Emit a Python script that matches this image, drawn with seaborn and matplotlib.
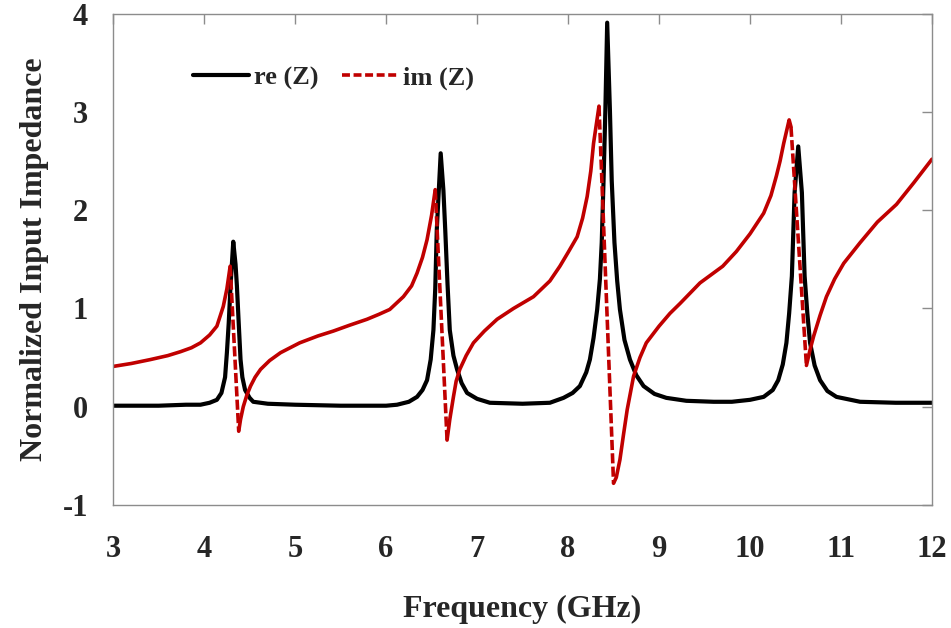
import numpy as np
import pandas as pd
import matplotlib
matplotlib.use("Agg")
import matplotlib.pyplot as plt
import seaborn as sns
from matplotlib.lines import Line2D

# --- data (frequency in GHz, normalized impedance) ---
re_freq = [3.00, 3.50, 3.80, 3.96, 4.06, 4.14, 4.19, 4.23, 4.25, 4.27, 4.29, 4.32, 4.345,
           4.36, 4.38, 4.40, 4.42, 4.45, 4.50, 4.54, 4.70, 5.00, 5.50, 6.00, 6.12, 6.25,
           6.34, 6.40, 6.45, 6.49, 6.52, 6.54, 6.557, 6.60, 6.63, 6.65, 6.675, 6.70, 6.74,
           6.78, 6.83, 6.89, 7.00, 7.14, 7.50, 7.80, 7.95, 8.05, 8.13, 8.20, 8.24, 8.28,
           8.32, 8.35, 8.37, 8.39, 8.41, 8.43, 8.46, 8.48, 8.51, 8.54, 8.57, 8.62, 8.68,
           8.75, 8.83, 8.95, 9.08, 9.30, 9.60, 9.80, 10.00, 10.15, 10.25, 10.31, 10.36,
           10.40, 10.43, 10.46, 10.49, 10.53, 10.57, 10.60, 10.63, 10.66, 10.71, 10.77,
           10.85, 10.95, 11.21, 11.60, 12.00]
re_val = [0.01, 0.01, 0.02, 0.02, 0.04, 0.07, 0.14, 0.30, 0.55, 0.85, 1.23, 1.68, 1.45,
          1.23, 0.85, 0.48, 0.30, 0.17, 0.09, 0.05, 0.03, 0.02, 0.01, 0.01, 0.02, 0.05,
          0.10, 0.17, 0.27, 0.48, 0.78, 1.20, 1.80, 2.58, 2.20, 1.80, 1.25, 0.78, 0.52,
          0.38, 0.24, 0.14, 0.08, 0.04, 0.03, 0.04, 0.09, 0.14, 0.21, 0.35, 0.48, 0.70,
          0.99, 1.30, 1.67, 2.30, 3.02, 3.91, 3.02, 2.30, 1.67, 1.28, 0.99, 0.68, 0.48,
          0.32, 0.21, 0.13, 0.09, 0.06, 0.05, 0.05, 0.07, 0.10, 0.17, 0.27, 0.43,
          0.65, 0.95, 1.33, 2.18, 2.65, 2.18, 1.33, 0.95, 0.65, 0.42, 0.27,
          0.16, 0.10, 0.05, 0.04, 0.04]

im_freq = [3.00, 3.20, 3.41, 3.60, 3.74, 3.86, 3.96, 4.06, 4.14, 4.21, 4.25, 4.286,
           4.38, 4.40, 4.43, 4.47, 4.51, 4.56, 4.62, 4.72, 4.84, 5.05, 5.25, 5.42, 5.60,
           5.79, 5.92, 6.04, 6.19, 6.28, 6.34, 6.40, 6.45, 6.50, 6.54,
           6.67, 6.70, 6.74, 6.77, 6.81, 6.88, 6.96, 7.08, 7.22, 7.40, 7.62, 7.80, 7.91,
           8.00, 8.10, 8.16, 8.21, 8.25, 8.28, 8.34,
           8.50, 8.53, 8.57, 8.61, 8.65, 8.72, 8.79, 8.86, 9.00, 9.12, 9.23, 9.45, 9.70,
           9.85, 10.00, 10.15, 10.23, 10.29, 10.33, 10.37, 10.43, 10.45,
           10.62, 10.66, 10.70, 10.77, 10.84, 10.93, 11.03, 11.21, 11.40, 11.61, 11.80,
           12.00]
im_val = [0.41, 0.44, 0.48, 0.52, 0.56, 0.60, 0.65, 0.73, 0.82, 1.02, 1.20, 1.43,
          -0.25, -0.13, 0.00, 0.12, 0.21, 0.30, 0.38, 0.47, 0.55, 0.65, 0.72, 0.77, 0.83,
          0.89, 0.94, 0.99, 1.12, 1.23, 1.36, 1.52, 1.70, 1.95, 2.21,
          -0.34, -0.13, 0.10, 0.26, 0.38, 0.52, 0.65, 0.77, 0.89, 1.00, 1.12, 1.28, 1.43,
          1.57, 1.73, 1.92, 2.14, 2.40, 2.68, 3.06,
          -0.78, -0.72, -0.54, -0.28, -0.03, 0.31, 0.50, 0.65, 0.82, 0.95, 1.05, 1.26, 1.43,
          1.58, 1.76, 1.97, 2.15, 2.35, 2.50, 2.68, 2.92, 2.85,
          0.42, 0.58, 0.72, 0.93, 1.12, 1.30, 1.46, 1.67, 1.88, 2.06, 2.28,
          2.52]

# steep drops of im(Z) that appear dashed in the reference
dashed_spans = [(4.286, 4.38), (6.54, 6.67), (8.34, 8.50), (10.45, 10.62)]

RED = "#C00000"
GRAY = "#8c8c8c"

sns.set_theme(style="white")
plt.rcParams["font.family"] = ["Liberation Serif", "DejaVu Serif"]
plt.rcParams["font.weight"] = "bold"
plt.rcParams["axes.labelweight"] = "bold"
plt.rcParams["axes.unicode_minus"] = False

fig = plt.figure(figsize=(9.51, 6.28), dpi=100)
ax = fig.add_axes([0.119, 0.196, 0.861, 0.782])

re_df = pd.DataFrame({"f": re_freq, "z": re_val})
im_df = pd.DataFrame({"f": im_freq, "z": im_val})

sns.lineplot(data=re_df, x="f", y="z", ax=ax, color="black", linewidth=3.0,
             estimator=None, sort=False)

# split im(Z) into solid pieces and dashed drops
edges = [im_freq[0]]
for a, b in dashed_spans:
    edges += [a, b]
edges.append(im_freq[-1])
for i in range(len(edges) - 1):
    lo, hi = edges[i], edges[i + 1]
    seg = im_df[(im_df.f >= lo) & (im_df.f <= hi)]
    dashed = i % 2 == 1
    sns.lineplot(data=seg, x="f", y="z", ax=ax, color=RED, linewidth=2.6,
                 estimator=None, sort=False,
                 linestyle=(0, (2.8, 0.9)) if dashed else "-")

ax.set_xlim(3, 12)
ax.set_ylim(-1, 4)
ax.set_xticks(range(3, 13))
ax.set_yticks(range(-1, 5))
ax.set_xlabel("Frequency (GHz)", fontsize=23, labelpad=22)
ax.set_ylabel("Normalized Input Impedance", fontsize=23, labelpad=10)

for s in ax.spines.values():
    s.set_color(GRAY)
    s.set_linewidth(1.0)
ax.tick_params(direction="in", length=7, width=1, color=GRAY, top=True, right=True,
               labelsize=22)
ax.tick_params(axis="x", pad=22)
ax.tick_params(axis="y", pad=18)

handles = [Line2D([], [], color="black", lw=3.0),
           Line2D([], [], color=RED, lw=2.6, linestyle=(0, (2.2, 1.0)))]
ax.legend(handles, ["re (Z)", "im (Z)"], loc="center left",
          bbox_to_anchor=(0.098, 0.870), ncol=2, frameon=False, fontsize=19,
          handlelength=2.1, handletextpad=0.2, columnspacing=0.9,
          borderpad=0, borderaxespad=0)

fig.savefig("out.png", dpi=100)
